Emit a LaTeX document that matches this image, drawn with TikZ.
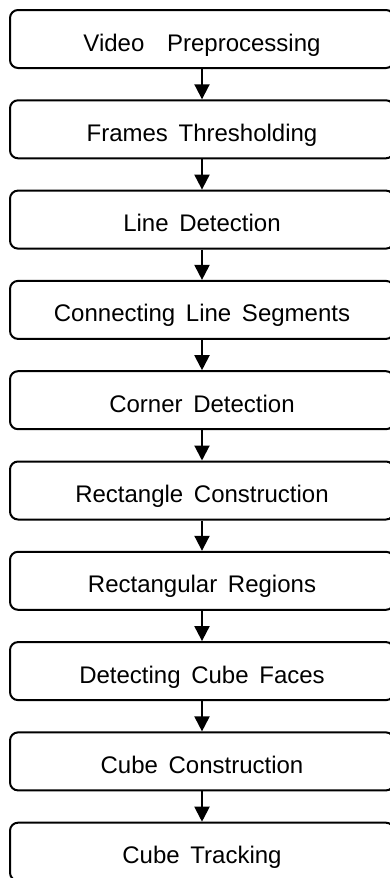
\documentclass[tikz,border=0pt]{standalone}
\usepackage{fontspec}
\setmainfont{Liberation Sans}[WordSpace=1.6]
\usetikzlibrary{arrows.meta}
\begin{document}
\begin{tikzpicture}[x=1pt,y=-1pt,
  stage/.style={draw=black, line width=2pt, rounded corners=8pt,
    minimum width=384pt, minimum height=58pt, inner sep=0pt,
    text height=24pt, text depth=0pt,
    font=\fontsize{24pt}{27pt}\selectfont, text=black},
  flow/.style={line width=2pt, -{Triangle[width=15pt,length=15pt]}}]
  \useasboundingbox (0,0) rectangle (390,878);
  \clip (0,0) rectangle (390,878);
  \fill[white] (0,0) rectangle (390,878);
  \foreach \name/\label [count=\i from 0] in {
      s0/Video\hspace{12pt} Preprocessing,
      s1/Frames Thresholding,
      s2/Line Detection,
      s3/Connecting Line Segments,
      s4/Corner Detection,
      s5/Rectangle Construction,
      s6/Rectangular Regions,
      s7/Detecting Cube Faces,
      s8/Cube Construction,
      s9/Cube Tracking} {
    \node[stage] (\name) at (202, 39+90.3*\i) {\label};
  }
  \foreach \a/\b in {s0/s1,s1/s2,s2/s3,s3/s4,s4/s5,s5/s6,s6/s7,s7/s8,s8/s9} {
    \draw[flow] (\a.south) -- (\b.north);
  }
\end{tikzpicture}
\end{document}
